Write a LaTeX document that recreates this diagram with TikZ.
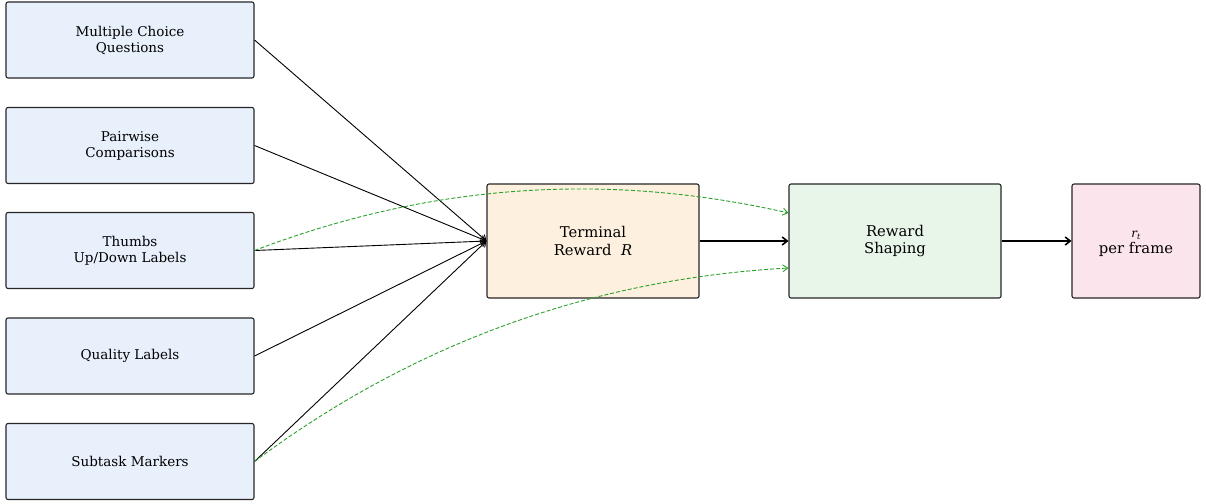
\documentclass[tikz,border=0pt]{standalone}
\usepackage{fontspec}
\setmainfont{DejaVu Serif}
\usetikzlibrary{arrows.meta}
\definecolor{srcfill}{HTML}{E8F0FC}
\definecolor{termfill}{HTML}{FDF0DF}
\definecolor{shapefill}{HTML}{E8F5E9}
\definecolor{framefill}{HTML}{FCE4EC}
\definecolor{tabgreen}{HTML}{2CA02C}
\tikzset{
  box/.style={draw=black!85, line width=1.1pt, rounded corners=2pt, align=center, inner sep=0pt},
  src/.style={box, fill=srcfill, minimum width=248pt, minimum height=76pt,
    font=\fontsize{13.5}{16}\selectfont},
  big/.style={box, minimum height=114pt, font=\fontsize{14.8}{17.5}\selectfont},
  feed/.style={draw=black, line width=0.9pt, -{Straight Barb[length=5pt,width=7pt]}},
  flow/.style={draw=black, line width=1.6pt, -{Straight Barb[length=5pt,width=8pt]}},
  hint/.style={draw=tabgreen, line width=0.9pt, dash pattern=on 4pt off 2pt,
    -{Straight Barb[length=5pt,width=7pt]}}
}
\begin{document}
\begin{tikzpicture}[x=1pt, y=-1pt]
\useasboundingbox (0,0) rectangle (1206,503);

% input label sources
\node[src] (mcq)  at (130,40) {Multiple Choice\\Questions};
\node[src] (pair) at (130,145.5)  {Pairwise\\Comparisons};
\node[src] (thumb) at (130,250.5) {Thumbs\\Up/Down Labels};
\node[src] (qual) at (130,356) {Quality Labels};
\node[src] (sub)  at (130,461.5)  {Subtask Markers};

% pipeline
\node[big, fill=termfill, minimum width=212pt] (term) at (593,241) {Terminal\\Reward\ \ \textit{R}};
\node[big, fill=shapefill, minimum width=212pt] (shape) at (895,241) {Reward\\Shaping};
\node[big, fill=framefill, minimum width=128pt] (frame) at (1136,241) {};
\node[font=\fontsize{14.8}{17.5}\selectfont, align=center, inner sep=0pt] (frametxt)
  at ([yshift=-3pt]frame.center)
  {{\fontsize{12}{13}\selectfont\itshape r\textsubscript{t}}\\[-1pt]per frame};

\coordinate (in) at (term.west);
\coordinate (hintA) at ([yshift=28pt]shape.west);
\coordinate (hintB) at ([yshift=-27pt]shape.west);

% every source feeds the terminal reward
\foreach \s in {mcq,pair,thumb,qual,sub}
  \draw[feed] (\s.east) -- (in);

\draw[flow] (term) -- (shape);
\draw[flow] (shape) -- (frame);

% dense signals go straight to shaping
\draw[hint] (thumb.east) .. controls (428.7,183.8) and (607,171.5) .. (hintA);
\draw[hint] (sub.east) .. controls (412.7,343.5) and (591,279.2) .. (hintB);
\end{tikzpicture}
\end{document}
